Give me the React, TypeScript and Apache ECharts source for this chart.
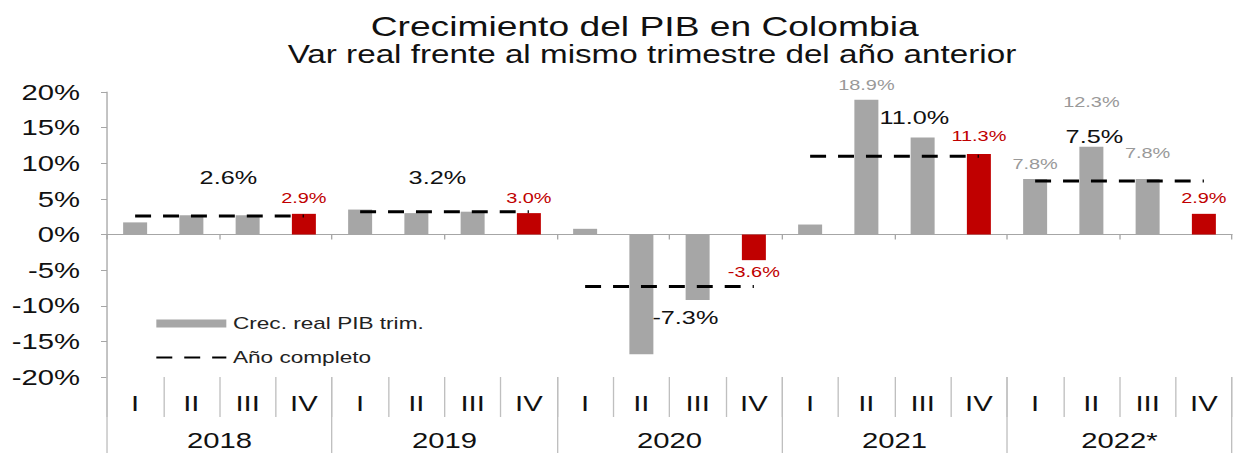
import React, { useEffect, useRef } from "react";
import * as echarts from "echarts";

const years = ["2018", "2019", "2020", "2021", "2022*"];
const quarterNames = ["I", "II", "III", "IV"];
const quarterly = [1.7, 2.7, 2.7, 2.9, 3.5, 3.0, 3.2, 3.0, 0.8, -16.8, -9.2, -3.6, 1.4, 18.9, 13.6, 11.3, 7.8, 12.3, 7.8, 2.9];
const annual = [2.6, 3.2, -7.3, 11.0, 7.5];
const yTicks = { min: -20, max: 20, interval: 5 };

const categories = years.flatMap((y) => quarterNames.map((q) => `${y}|${q}`));

const GRAY = "#A6A6A6";
const RED = "#C00000";
const FONT = "Liberation Sans, Arial, sans-serif";

// the reference is horizontally stretched: draw narrower, stretch with CSS
const OUT_W = 1235;
const OUT_H = 453;
const INNER_W = 929;
const S = OUT_W / INNER_W;
const px = (x: number) => x / S;

// label placement (style only)
const barLabelStyle: Record<number, { pos: string; dist: number; color: string }> = {
  3: { pos: "top", dist: 8, color: RED },
  7: { pos: "top", dist: 8, color: RED },
  11: { pos: "bottom", dist: 4, color: RED },
  13: { pos: "top", dist: 7, color: "#999999" },
  15: { pos: "top", dist: 11, color: RED },
  16: { pos: "top", dist: 8, color: "#999999" },
  17: { pos: "top", dist: 37, color: "#999999" },
  18: { pos: "top", dist: 19, color: "#999999" },
  19: { pos: "top", dist: 8, color: RED },
};
const annualLabelStyle = [
  { q: 1, off: [px(37), -38] },
  { q: 1, off: [px(21), -34] },
  { q: 1, off: [px(44), 31] },
  { q: 1, off: [px(48), -39] },
  { q: 1, off: [px(3), -44] },
];

const fmt = (v: number) => `${v.toFixed(1)}%`;

export default function App() {
  const ref = useRef<HTMLDivElement>(null);
  useEffect(() => {
    if (!ref.current) return;
    const chart = echarts.init(ref.current, undefined, { renderer: "svg" });

    const barData = quarterly.map((v, i) => {
      const s = barLabelStyle[i];
      return {
        value: v,
        itemStyle: { color: i % 4 === 3 ? RED : GRAY },
        label: s
          ? {
              show: true,
              position: s.pos,
              distance: s.dist,
              color: s.color,
              fontSize: 15,
              formatter: () => fmt(v),
            }
          : { show: false },
      };
    });

    const lineSeries = annual.map((a, yi) => {
      const st = annualLabelStyle[yi];
      const data = categories.map((_, i) => {
        if (Math.floor(i / 4) !== yi) return null;
        if (i % 4 === st.q) {
          return {
            value: a,
            label: {
              show: true,
              position: "inside",
              offset: st.off,
              fontSize: 19,
              color: "#111111",
              formatter: () => fmt(a),
            },
          };
        }
        return a;
      });
      return {
        type: "line",
        name: "Año completo",
        xAxisIndex: 0,
        yAxisIndex: 0,
        data,
        symbol: "circle",
        symbolSize: 1,
        showSymbol: true,
        itemStyle: { color: "rgba(0,0,0,0)" },
        lineStyle: { color: "#000000", width: 3, type: [12, 9] },
        label: { show: false },
        z: 5,
      };
    });

    chart.setOption({
      animation: false,
      textStyle: { fontFamily: FONT },
      title: [
        {
          text: "Crecimiento del PIB en Colombia",
          left: px(364),
          top: 7,
          textStyle: { fontSize: 28, fontWeight: "normal", color: "#111111", fontFamily: FONT },
        },
        {
          text: "Var real frente al mismo trimestre del año anterior",
          left: px(281),
          top: 37,
          textStyle: { fontSize: 25, fontWeight: "normal", color: "#111111", fontFamily: FONT },
        },
      ],
      legend: {
        orient: "vertical",
        left: px(155),
        top: 315,
        padding: 0,
        itemWidth: px(70),
        itemHeight: 8,
        itemGap: 17,
        textStyle: { fontSize: 17, color: "#222222", fontFamily: FONT },
        data: [
          { name: "Crec. real PIB trim.", icon: "rect" },
          { name: "Año completo" },
        ],
      },
      grid: { left: px(107), right: px(3), top: 92, bottom: 76, containLabel: false },
      xAxis: [
        {
          type: "category",
          data: categories,
          gridIndex: 0,
          position: "bottom",
          axisLine: { show: true, onZero: true, lineStyle: { color: GRAY, width: 1 } },
          axisTick: { show: true, length: 5, lineStyle: { color: GRAY } },
          axisLabel: { show: false },
          splitLine: { show: false },
        },
        {
          type: "category",
          data: categories,
          gridIndex: 0,
          position: "bottom",
          offset: 0,
          axisLine: { show: false, onZero: false },
          axisTick: { show: true, length: 40, lineStyle: { color: "#BFBFBF" } },
          axisLabel: {
            show: true,
            fontSize: 22,
            color: "#111111",
            margin: 15,
            interval: 0,
            formatter: (v: string) => v.split("|")[1],
          },
          splitLine: { show: false },
        },
        {
          type: "category",
          data: years,
          gridIndex: 0,
          position: "bottom",
          offset: 0,
          axisLine: { show: false, onZero: false },
          axisTick: { show: true, length: 76, lineStyle: { color: "#BFBFBF" } },
          axisLabel: { show: true, fontSize: 22, color: "#111111", margin: 52, interval: 0 },
          splitLine: { show: false },
        },
      ],
      yAxis: {
        type: "value",
        min: yTicks.min,
        max: yTicks.max,
        interval: yTicks.interval,
        axisLine: { show: true, lineStyle: { color: GRAY } },
        axisTick: { show: true, length: px(6), lineStyle: { color: GRAY } },
        axisLabel: {
          fontSize: 22,
          color: "#111111",
          margin: px(27),
          formatter: (v: number) => `${v}%`,
        },
        splitLine: { show: false },
      },
      series: [
        {
          type: "bar",
          name: "Crec. real PIB trim.",
          xAxisIndex: 0,
          yAxisIndex: 0,
          data: barData,
          barWidth: px(24),
          itemStyle: { color: GRAY },
          z: 2,
        },
        ...lineSeries,
      ],
    });
    return () => chart.dispose();
  }, []);
  return (
    <div style={{ position: "fixed", left: 0, top: 0, width: OUT_W, height: OUT_H, overflow: "hidden", background: "#fff" }}>
      <div
        ref={ref}
        style={{
          width: INNER_W,
          height: OUT_H,
          transform: `scaleX(${S})`,
          transformOrigin: "left top",
        }}
      />
    </div>
  );
}
